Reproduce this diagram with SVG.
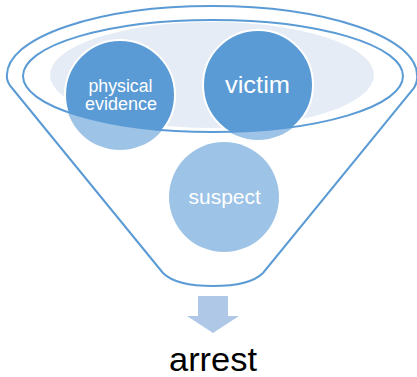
<svg xmlns="http://www.w3.org/2000/svg" width="417" height="377" viewBox="0 0 417 377">
<style>
.ln{fill:none;stroke:#5b9bd5;stroke-width:2}
.dark{fill:#5b9bd5;stroke:#fff;stroke-width:2}
.light{fill:#9dc3e6}
.t{fill:#fff;font-family:"Liberation Sans",Arial,sans-serif;text-anchor:middle}
</style>
<defs>
<clipPath id="inner"><ellipse cx="213" cy="76" rx="190" ry="56"/></clipPath>
</defs>
<rect width="417" height="377" fill="#fff"/>
<g id="funnel">
<path class="ln" d="M163,273 L12,88 Q6,81 7,75 A205,69 0 0 1 417,75 Q418,81 414,88 L263,273 Q250,286 213,286 Q176,286 163,273 Z"/>
<ellipse cx="212" cy="75" rx="162" ry="53" fill="#e5ecf6"/>
</g>
<g id="node-physical">
<circle class="light" cx="120" cy="95" r="55"/>
<circle class="dark" cx="120" cy="95" r="55" clip-path="url(#inner)"/>
<text class="t" x="120.5" y="91.5" font-size="18" textLength="64" lengthAdjust="spacingAndGlyphs">physical</text>
<text class="t" x="121" y="110" font-size="18" textLength="72" lengthAdjust="spacingAndGlyphs">evidence</text>
</g>
<g id="node-victim">
<circle class="light" cx="258" cy="85" r="55"/>
<circle class="dark" cx="258" cy="85" r="55" clip-path="url(#inner)"/>
<text class="t" x="257.5" y="93" font-size="24" textLength="65" lengthAdjust="spacingAndGlyphs">victim</text>
</g>
<g id="node-suspect">
<circle class="light" cx="224" cy="197" r="55"/>
<text class="t" x="224.7" y="204" font-size="21">suspect</text>
</g>
<g id="rim">
<ellipse class="ln" cx="213" cy="76" rx="190" ry="56"/>
</g>
<g id="connectors">
<path d="M198,296 H228 V316 H239 L213,333 L187,316 H198 Z" fill="#b0c8e8"/>
</g>
<g id="node-arrest">
<text x="213" y="371" font-size="33" font-family="Liberation Sans,Arial,sans-serif" text-anchor="middle" fill="#000" textLength="88" lengthAdjust="spacingAndGlyphs">arrest</text>
</g>
</svg>
